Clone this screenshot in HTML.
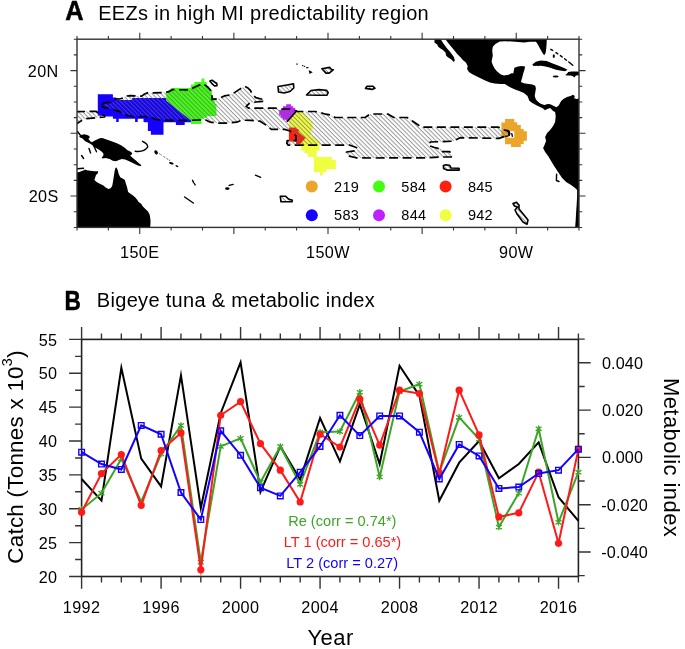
<!DOCTYPE html>
<html><head><meta charset="utf-8"><title>EEZs and bigeye tuna</title>
<style>
html,body{margin:0;padding:0;background:#fff;}
body{width:685px;height:649px;overflow:hidden;}
svg{display:block;font-family:"Liberation Sans", sans-serif;will-change:transform;}
</style></head><body>
<svg width="685" height="649" viewBox="0 0 685 649" fill="#000">
<text transform="translate(65.3,20.4) scale(0.93,1)" font-size="27.3" font-weight="bold" stroke="#000" stroke-width="0.5">A</text>
<text x="98.2" y="19.9" font-size="20" letter-spacing="0.32">EEZs in high MI predictability region</text>
<text transform="translate(64.6,310.4) scale(0.8,1)" font-size="28.3" font-weight="bold" stroke="#000" stroke-width="0.5">B</text>
<text x="96.8" y="306.7" font-size="20" letter-spacing="0.32">Bigeye tuna &amp; metabolic index</text>
<rect x="81.6" y="339.4" width="496.79999999999995" height="237.10000000000002" fill="none" stroke="#222" stroke-width="1.6"/>
<path d="M81.60,576.5v12.3M81.60,339.4v-12.3M101.47,576.5v6M101.47,339.4v-6M121.34,576.5v6M121.34,339.4v-6M141.22,576.5v6M141.22,339.4v-6M161.09,576.5v12.3M161.09,339.4v-12.3M180.96,576.5v6M180.96,339.4v-6M200.83,576.5v6M200.83,339.4v-6M220.70,576.5v6M220.70,339.4v-6M240.58,576.5v12.3M240.58,339.4v-12.3M260.45,576.5v6M260.45,339.4v-6M280.32,576.5v6M280.32,339.4v-6M300.19,576.5v6M300.19,339.4v-6M320.06,576.5v12.3M320.06,339.4v-12.3M339.94,576.5v6M339.94,339.4v-6M359.81,576.5v6M359.81,339.4v-6M379.68,576.5v6M379.68,339.4v-6M399.55,576.5v12.3M399.55,339.4v-12.3M419.42,576.5v6M419.42,339.4v-6M439.30,576.5v6M439.30,339.4v-6M459.17,576.5v6M459.17,339.4v-6M479.04,576.5v12.3M479.04,339.4v-12.3M498.91,576.5v6M498.91,339.4v-6M518.78,576.5v6M518.78,339.4v-6M538.66,576.5v6M538.66,339.4v-6M558.53,576.5v12.3M558.53,339.4v-12.3M578.40,576.5v6M578.40,339.4v-6M81.6,576.50h-12.5M81.6,559.56h-6.5M81.6,542.63h-12.5M81.6,525.69h-6.5M81.6,508.76h-12.5M81.6,491.82h-6.5M81.6,474.89h-12.5M81.6,457.95h-6.5M81.6,441.01h-12.5M81.6,424.08h-6.5M81.6,407.14h-12.5M81.6,390.21h-6.5M81.6,373.27h-12.5M81.6,356.34h-6.5M81.6,339.40h-12.5M578.4,575.65h6.3M578.4,552.00h12.3M578.4,528.35h6.3M578.4,504.70h12.3M578.4,481.05h6.3M578.4,457.40h12.3M578.4,433.75h6.3M578.4,410.10h12.3M578.4,386.45h6.3M578.4,362.80h12.3M578.4,339.15h6.3" stroke="#333" stroke-width="1.4" fill="none"/>
<text x="57.3" y="582.60" font-size="16.2" letter-spacing="0.3" text-anchor="end">20</text>
<text x="57.3" y="548.73" font-size="16.2" letter-spacing="0.3" text-anchor="end">25</text>
<text x="57.3" y="514.86" font-size="16.2" letter-spacing="0.3" text-anchor="end">30</text>
<text x="57.3" y="480.99" font-size="16.2" letter-spacing="0.3" text-anchor="end">35</text>
<text x="57.3" y="447.11" font-size="16.2" letter-spacing="0.3" text-anchor="end">40</text>
<text x="57.3" y="413.24" font-size="16.2" letter-spacing="0.3" text-anchor="end">45</text>
<text x="57.3" y="379.37" font-size="16.2" letter-spacing="0.3" text-anchor="end">50</text>
<text x="57.3" y="345.50" font-size="16.2" letter-spacing="0.3" text-anchor="end">55</text>
<text x="601.9" y="368.60" font-size="16.2" letter-spacing="0.15">0.040</text>
<text x="601.9" y="415.90" font-size="16.2" letter-spacing="0.15">0.020</text>
<text x="601.9" y="463.20" font-size="16.2" letter-spacing="0.15">0.000</text>
<text x="601.2" y="510.50" font-size="16.2" letter-spacing="0.15">-0.020</text>
<text x="601.2" y="557.80" font-size="16.2" letter-spacing="0.15">-0.040</text>
<text x="81.60" y="613.2" font-size="16.2" letter-spacing="0.4" text-anchor="middle">1992</text>
<text x="161.09" y="613.2" font-size="16.2" letter-spacing="0.4" text-anchor="middle">1996</text>
<text x="240.58" y="613.2" font-size="16.2" letter-spacing="0.4" text-anchor="middle">2000</text>
<text x="320.06" y="613.2" font-size="16.2" letter-spacing="0.4" text-anchor="middle">2004</text>
<text x="399.55" y="613.2" font-size="16.2" letter-spacing="0.4" text-anchor="middle">2008</text>
<text x="479.04" y="613.2" font-size="16.2" letter-spacing="0.4" text-anchor="middle">2012</text>
<text x="558.53" y="613.2" font-size="16.2" letter-spacing="0.4" text-anchor="middle">2016</text>
<text x="330.6" y="645" font-size="22" letter-spacing="0.4" text-anchor="middle">Year</text>
<text transform="translate(23.1,456.9) rotate(-90)" font-size="22.3" letter-spacing="0.3" text-anchor="middle">Catch (Tonnes x 10<tspan dy="-11" font-size="14.5">3</tspan><tspan dy="11">)</tspan></text>
<text transform="translate(664.3,457.6) rotate(90)" font-size="22" letter-spacing="0.43" text-anchor="middle">Metabolic index</text>
<polyline points="81.60,478.95 101.47,500.63 121.34,367.85 141.22,458.63 161.09,486.40 180.96,375.30 200.83,508.08 220.70,413.24 240.58,362.43 260.45,491.82 280.32,446.43 300.19,479.63 320.06,417.98 339.94,461.34 359.81,404.43 379.68,464.05 399.55,365.82 419.42,395.63 439.30,500.63 459.17,462.69 479.04,441.01 498.91,478.27 518.78,464.05 538.66,442.37 558.53,497.24 578.40,520.95" fill="none" stroke="#000" stroke-width="2.0" stroke-linejoin="miter" stroke-miterlimit="12"/>
<polyline points="81.60,509.43 101.47,493.18 121.34,458.63 141.22,501.98 161.09,453.89 180.96,425.43 200.83,562.27 220.70,446.43 240.58,438.30 260.45,482.34 280.32,446.43 300.19,484.37 320.06,432.21 339.94,431.53 359.81,392.24 379.68,476.92 399.55,391.56 419.42,384.11 439.30,472.18 459.17,417.30 479.04,438.98 498.91,527.05 518.78,493.18 538.66,428.82 558.53,522.31 578.40,472.18" fill="none" stroke="#3ca526" stroke-width="2.0" stroke-linejoin="miter" stroke-miterlimit="12"/>
<path d="M81.60,506.23v6.40M78.65,507.37l5.90,4.13M78.65,511.50l5.90,-4.13M101.47,489.98v6.40M98.52,491.11l5.90,4.13M98.52,495.24l5.90,-4.13M121.34,455.43v6.40M118.40,456.56l5.90,4.13M118.40,460.69l5.90,-4.13M141.22,498.78v6.40M138.27,499.92l5.90,4.13M138.27,504.05l5.90,-4.13M161.09,450.69v6.40M158.14,451.82l5.90,4.13M158.14,455.95l5.90,-4.13M180.96,422.23v6.40M178.01,423.37l5.90,4.13M178.01,427.50l5.90,-4.13M200.83,559.07v6.40M197.88,560.21l5.90,4.13M197.88,564.34l5.90,-4.13M220.70,443.23v6.40M217.76,444.37l5.90,4.13M217.76,448.50l5.90,-4.13M240.58,435.10v6.40M237.63,436.24l5.90,4.13M237.63,440.37l5.90,-4.13M260.45,479.14v6.40M257.50,480.27l5.90,4.13M257.50,484.40l5.90,-4.13M280.32,443.23v6.40M277.37,444.37l5.90,4.13M277.37,448.50l5.90,-4.13M300.19,481.17v6.40M297.24,482.30l5.90,4.13M297.24,486.43l5.90,-4.13M320.06,429.01v6.40M317.12,430.14l5.90,4.13M317.12,434.27l5.90,-4.13M339.94,428.33v6.40M336.99,429.47l5.90,4.13M336.99,433.60l5.90,-4.13M359.81,389.04v6.40M356.86,390.17l5.90,4.13M356.86,394.30l5.90,-4.13M379.68,473.72v6.40M376.73,474.85l5.90,4.13M376.73,478.98l5.90,-4.13M399.55,388.36v6.40M396.60,389.50l5.90,4.13M396.60,393.63l5.90,-4.13M419.42,380.91v6.40M416.48,382.05l5.90,4.13M416.48,386.18l5.90,-4.13M439.30,468.98v6.40M436.35,470.11l5.90,4.13M436.35,474.24l5.90,-4.13M459.17,414.10v6.40M456.22,415.24l5.90,4.13M456.22,419.37l5.90,-4.13M479.04,435.78v6.40M476.09,436.92l5.90,4.13M476.09,441.05l5.90,-4.13M498.91,523.85v6.40M495.96,524.98l5.90,4.13M495.96,529.11l5.90,-4.13M518.78,489.98v6.40M515.84,491.11l5.90,4.13M515.84,495.24l5.90,-4.13M538.66,425.62v6.40M535.71,426.76l5.90,4.13M535.71,430.89l5.90,-4.13M558.53,519.11v6.40M555.58,520.24l5.90,4.13M555.58,524.37l5.90,-4.13M578.40,468.98v6.40M575.45,470.11l5.90,4.13M575.45,474.24l5.90,-4.13" stroke="#3ca526" stroke-width="1.3" fill="none"/>
<polyline points="81.60,512.14 101.47,473.53 121.34,454.56 141.22,505.37 161.09,450.50 180.96,432.89 200.83,569.73 220.70,415.27 240.58,401.72 260.45,443.72 280.32,470.14 300.19,501.98 320.06,434.24 339.94,447.11 359.81,399.01 379.68,445.08 399.55,390.21 419.42,393.59 439.30,473.53 459.17,390.21 479.04,434.92 498.91,516.89 518.78,512.82 538.66,472.18 558.53,543.31 578.40,449.14" fill="none" stroke="#ff1a1a" stroke-width="2.0" stroke-linejoin="miter" stroke-miterlimit="12"/>
<circle cx="81.60" cy="512.14" r="3.6" fill="#ff1a1a"/>
<circle cx="101.47" cy="473.53" r="3.6" fill="#ff1a1a"/>
<circle cx="121.34" cy="454.56" r="3.6" fill="#ff1a1a"/>
<circle cx="141.22" cy="505.37" r="3.6" fill="#ff1a1a"/>
<circle cx="161.09" cy="450.50" r="3.6" fill="#ff1a1a"/>
<circle cx="180.96" cy="432.89" r="3.6" fill="#ff1a1a"/>
<circle cx="200.83" cy="569.73" r="3.6" fill="#ff1a1a"/>
<circle cx="220.70" cy="415.27" r="3.6" fill="#ff1a1a"/>
<circle cx="240.58" cy="401.72" r="3.6" fill="#ff1a1a"/>
<circle cx="260.45" cy="443.72" r="3.6" fill="#ff1a1a"/>
<circle cx="280.32" cy="470.14" r="3.6" fill="#ff1a1a"/>
<circle cx="300.19" cy="501.98" r="3.6" fill="#ff1a1a"/>
<circle cx="320.06" cy="434.24" r="3.6" fill="#ff1a1a"/>
<circle cx="339.94" cy="447.11" r="3.6" fill="#ff1a1a"/>
<circle cx="359.81" cy="399.01" r="3.6" fill="#ff1a1a"/>
<circle cx="379.68" cy="445.08" r="3.6" fill="#ff1a1a"/>
<circle cx="399.55" cy="390.21" r="3.6" fill="#ff1a1a"/>
<circle cx="419.42" cy="393.59" r="3.6" fill="#ff1a1a"/>
<circle cx="439.30" cy="473.53" r="3.6" fill="#ff1a1a"/>
<circle cx="459.17" cy="390.21" r="3.6" fill="#ff1a1a"/>
<circle cx="479.04" cy="434.92" r="3.6" fill="#ff1a1a"/>
<circle cx="498.91" cy="516.89" r="3.6" fill="#ff1a1a"/>
<circle cx="518.78" cy="512.82" r="3.6" fill="#ff1a1a"/>
<circle cx="538.66" cy="472.18" r="3.6" fill="#ff1a1a"/>
<circle cx="558.53" cy="543.31" r="3.6" fill="#ff1a1a"/>
<circle cx="578.40" cy="449.14" r="3.6" fill="#ff1a1a"/>
<polyline points="81.60,452.19 101.47,464.05 121.34,469.47 141.22,425.43 161.09,434.24 180.96,492.50 200.83,519.60 220.70,430.85 240.58,455.24 260.45,487.76 280.32,495.89 300.19,472.18 320.06,446.43 339.94,415.27 359.81,435.59 379.68,415.95 399.55,415.95 419.42,432.21 439.30,478.95 459.17,444.40 479.04,455.92 498.91,488.43 518.78,487.08 538.66,473.53 558.53,470.14 578.40,449.14" fill="none" stroke="#1400ff" stroke-width="2.0" stroke-linejoin="miter" stroke-miterlimit="12"/>
<path d="M78.80,449.39h5.6v5.6h-5.6zM98.67,461.25h5.6v5.6h-5.6zM118.54,466.67h5.6v5.6h-5.6zM138.42,422.63h5.6v5.6h-5.6zM158.29,431.44h5.6v5.6h-5.6zM178.16,489.70h5.6v5.6h-5.6zM198.03,516.80h5.6v5.6h-5.6zM217.90,428.05h5.6v5.6h-5.6zM237.78,452.44h5.6v5.6h-5.6zM257.65,484.96h5.6v5.6h-5.6zM277.52,493.09h5.6v5.6h-5.6zM297.39,469.38h5.6v5.6h-5.6zM317.26,443.63h5.6v5.6h-5.6zM337.14,412.47h5.6v5.6h-5.6zM357.01,432.79h5.6v5.6h-5.6zM376.88,413.15h5.6v5.6h-5.6zM396.75,413.15h5.6v5.6h-5.6zM416.62,429.41h5.6v5.6h-5.6zM436.50,476.15h5.6v5.6h-5.6zM456.37,441.60h5.6v5.6h-5.6zM476.24,453.12h5.6v5.6h-5.6zM496.11,485.63h5.6v5.6h-5.6zM515.98,484.28h5.6v5.6h-5.6zM535.86,470.73h5.6v5.6h-5.6zM555.73,467.34h5.6v5.6h-5.6zM575.60,446.34h5.6v5.6h-5.6z" stroke="#1400ff" stroke-width="1.4" fill="none"/>
<text x="342.3" y="526.3" font-size="14.6" fill="#3ca526" text-anchor="middle">Re (corr = 0.74*)</text>
<text x="342.5" y="547.2" font-size="14.6" fill="#ff1a1a" text-anchor="middle">LT 1 (corr = 0.65*)</text>
<text x="342.2" y="568.2" font-size="14.6" fill="#1400ff" text-anchor="middle">LT 2 (corr = 0.27)</text>
<defs><clipPath id="mc"><rect x="77" y="39.2" width="502" height="188.2"/></clipPath><pattern id="hp" width="3.1" height="20" patternUnits="userSpaceOnUse" patternTransform="rotate(-45)"><line x1="1" y1="0" x2="1" y2="20" stroke="#646464" stroke-width="0.75"/></pattern></defs>
<g clip-path="url(#mc)">
<polygon points="97.8,94.2 112.9,94.2 112.9,97.5 116.2,97.5 116.2,100.0 132.2,100.0 132.2,97.9 166.2,97.9 166.2,100.4 191.2,120.5 191.2,122.3 184.7,122.3 184.7,124.9 175.9,124.9 175.9,122.3 163.5,122.3 163.5,134.7 150.9,134.7 150.9,131.0 147.9,131.0 147.9,122.3 144.4,122.3 144.4,121.9 143.5,121.9 143.5,118.7 137.7,118.7 137.7,121.9 135.1,121.9 135.1,118.7 118.7,118.7 118.7,121.9 116.2,121.9 116.2,118.7 112.9,118.7 112.9,116.5 104.5,116.5 104.5,115.7 97.8,115.7" fill="#1500ff"/>
<polygon points="171.9,88.0 191.0,88.0 191.0,84.5 194.5,84.5 194.5,81.9 201.5,81.9 201.5,78.4 204.2,78.4 204.2,81.9 206.8,81.9 206.8,86.3 209.4,86.3 209.4,89.8 212.0,89.8 212.0,97.7 214.7,97.7 214.7,103.8 216.4,103.8 216.4,116.1 206.8,116.1 206.8,118.0 202.4,118.0 202.4,119.6 201.5,119.6 201.5,123.9 191.0,123.9 191.0,120.3 166.2,100.4 166.2,92.0" fill="#40ff10"/>
<polygon points="287.3,121.4 296.4,111.2 301.3,111.2 301.3,112.8 304.5,112.8 304.5,115.5 307.2,115.5 307.2,118.2 309.9,118.2 309.9,121.4 312.6,121.4 312.6,130.6 311.0,130.6 311.0,136.5 314.2,136.5 314.2,138.7 317.5,138.7 317.5,141.4 319.6,141.4 319.7,150.4 316.6,150.4 316.6,157.0 332.0,157.0 332.0,160.0 335.8,160.0 335.8,169.3 326.2,169.3 326.2,172.0 322.7,172.0 322.7,175.5 320.0,175.5 320.0,172.0 313.9,172.0 313.9,157.0 307.7,157.0 307.7,153.1 304.3,153.1 304.3,150.8 301.2,150.8 301.2,144.1 296.0,144.1 296.0,127.4 288.9,127.4 288.9,121.4" fill="#f0fe40"/>
<polygon points="286.2,104.2 291.0,104.2 291.0,106.3 293.2,106.3 293.2,107.9 295.3,107.9 295.3,110.1 296.4,111.2 287.3,121.4 286.2,121.4 286.2,119.8 282.9,119.8 282.9,117.7 280.8,117.7 280.8,115.5 279.2,115.5 279.2,110.1 282.9,110.1 282.9,106.3 286.2,106.3" fill="#be20ff"/>
<polygon points="288.9,127.4 296.4,127.4 296.4,129.0 298.6,129.0 298.6,132.2 305.6,138.1 300.2,144.1 295.9,144.1 295.9,141.4 288.9,141.4" fill="#ff2010"/>
<path d="M505.0,119.0 L514.3,119.0 L514.3,122.2 L517.2,122.2 L517.2,124.9 L520.8,124.9 L520.8,129.0 L523.7,129.0 L523.7,131.3 L526.9,131.3 L526.9,140.7 L523.7,140.7 L523.7,143.9 L520.8,143.9 L520.8,147.1 L511.1,147.1 L511.1,144.2 L505.0,144.2 L505.0,137.8 L501.4,137.8 L501.4,122.5 L505.0,122.5Z M507.6,131.3 L514.3,131.3 L514.3,137.8 L507.6,137.8Z" fill="#eba52a" fill-rule="evenodd"/>
<polygon points="76.0,111.7 96.0,111.3 100.3,114.3 104.3,115.4 104.6,117.0 98.5,117.5 86.4,118.7 81.1,120.9 77.2,123.5 76.0,124.0" fill="url(#hp)"/>
<polygon points="102.3,104.0 104.0,102.8 107.3,102.6 112.5,102.3 116.0,98.8 119.5,99.0 123.6,97.8 125.4,96.1 130.0,95.7 141.7,96.1 144.0,94.3 147.6,92.9 165.1,92.6 169.7,91.4 172.1,89.7 189.3,89.8 194.5,87.2 202.4,83.7 206.8,86.3 210.3,89.8 212.0,95.0 212.0,99.4 219.1,98.5 224.3,95.9 229.6,95.0 234.8,92.4 240.1,88.9 244.5,86.3 248.0,88.0 250.6,90.7 252.3,94.2 255.8,97.7 262.9,99.4 264.6,101.2 255.8,102.0 248.8,103.8 246.2,106.4 248.8,108.2 275.1,108.2 282.1,109.1 290.0,109.1 297.5,111.5 315.0,111.5 320.3,112.4 325.5,114.2 330.0,114.9 335.3,117.5 365.0,117.5 370.3,114.0 387.8,114.0 393.9,117.5 407.1,117.5 412.0,120.8 417.6,124.5 421.1,127.2 498.5,127.2 501.5,128.5 504.5,130.0 507.0,130.5 508.8,132.0 509.0,134.5 507.5,136.2 504.0,136.6 499.0,138.4 460.1,137.7 456.6,139.4 453.1,141.2 430.3,142.0 428.5,145.5 433.8,147.3 440.8,149.1 442.6,151.7 449.6,151.7 452.2,154.3 451.3,157.0 442.6,157.0 425.0,157.8 372.9,158.0 356.0,157.8 349.3,156.1 346.0,153.5 346.5,152.0 354.5,150.8 357.5,149.5 356.3,147.5 350.0,145.2 296.0,145.2 288.0,145.2 286.8,143.0 287.2,140.6 296.0,140.6 296.0,136.0 290.0,131.0 284.7,129.4 271.4,129.4 266.3,125.3 260.1,121.2 250.6,120.4 241.7,120.2 236.6,122.2 226.1,123.1 217.3,123.1 210.3,122.2 205.0,119.6 189.3,120.4 170.0,120.4 160.4,120.0 155.7,119.5 151.1,117.1 145.2,116.5 132.4,116.5 127.1,115.4 122.4,113.7 119.5,111.4 116.6,110.8 110.8,109.0 104.9,107.6 102.6,106.7" fill="url(#hp)"/>
<polygon points="209.8,81.0 212.0,80.2 214.5,82.0 216.8,83.5 217.0,85.6 214.5,86.0 212.5,84.2" fill="url(#hp)"/>
<polygon points="278.0,86.5 287.0,85.0 293.5,83.8 293.8,88.0 290.0,91.5 284.0,93.0 278.5,92.0" fill="url(#hp)"/>
<polygon points="306.5,95.0 311.0,90.5 319.0,89.6 326.5,90.2 328.2,92.5 327.0,95.2 318.0,95.3" fill="url(#hp)"/>
<polygon points="321.9,68.7 329.6,67.4 331.6,69.5 333.2,69.9 329.2,73.1 326.0,73.1" fill="url(#hp)"/>
<polygon points="365.4,88.4 367.0,86.3 373.0,86.2 375.0,88.2 372.0,89.4" fill="url(#hp)"/>
<polygon points="443.4,165.5 446.0,164.8 449.5,165.2 451.0,168.0 459.0,168.2 459.2,170.1 447.0,170.1 443.6,168.5" fill="url(#hp)"/>
<polygon points="280.3,196.3 285.5,196.2 288.5,199.0 292.3,200.2 292.0,201.8 281.0,201.8" fill="url(#hp)"/>
<polygon points="513.0,203.5 516.5,202.2 519.0,205.0 519.0,209.0 524.0,215.0 528.0,220.0 527.0,224.2 523.0,222.0 517.0,214.0 515.0,210.0 517.5,207.0 514.5,206.0" fill="url(#hp)"/>
<polygon points="76.0,111.7 96.0,111.3 100.3,114.3 104.3,115.4 104.6,117.0 98.5,117.5 86.4,118.7 81.1,120.9 77.2,123.5 76.0,124.0" fill="none" stroke="#000" stroke-width="1.7" stroke-dasharray="9 4.5" stroke-linejoin="round"/>
<polygon points="102.3,104.0 104.0,102.8 107.3,102.6 112.5,102.3 116.0,98.8 119.5,99.0 123.6,97.8 125.4,96.1 130.0,95.7 141.7,96.1 144.0,94.3 147.6,92.9 165.1,92.6 169.7,91.4 172.1,89.7 189.3,89.8 194.5,87.2 202.4,83.7 206.8,86.3 210.3,89.8 212.0,95.0 212.0,99.4 219.1,98.5 224.3,95.9 229.6,95.0 234.8,92.4 240.1,88.9 244.5,86.3 248.0,88.0 250.6,90.7 252.3,94.2 255.8,97.7 262.9,99.4 264.6,101.2 255.8,102.0 248.8,103.8 246.2,106.4 248.8,108.2 275.1,108.2 282.1,109.1 290.0,109.1 297.5,111.5 315.0,111.5 320.3,112.4 325.5,114.2 330.0,114.9 335.3,117.5 365.0,117.5 370.3,114.0 387.8,114.0 393.9,117.5 407.1,117.5 412.0,120.8 417.6,124.5 421.1,127.2 498.5,127.2 501.5,128.5 504.5,130.0 507.0,130.5 508.8,132.0 509.0,134.5 507.5,136.2 504.0,136.6 499.0,138.4 460.1,137.7 456.6,139.4 453.1,141.2 430.3,142.0 428.5,145.5 433.8,147.3 440.8,149.1 442.6,151.7 449.6,151.7 452.2,154.3 451.3,157.0 442.6,157.0 425.0,157.8 372.9,158.0 356.0,157.8 349.3,156.1 346.0,153.5 346.5,152.0 354.5,150.8 357.5,149.5 356.3,147.5 350.0,145.2 296.0,145.2 288.0,145.2 286.8,143.0 287.2,140.6 296.0,140.6 296.0,136.0 290.0,131.0 284.7,129.4 271.4,129.4 266.3,125.3 260.1,121.2 250.6,120.4 241.7,120.2 236.6,122.2 226.1,123.1 217.3,123.1 210.3,122.2 205.0,119.6 189.3,120.4 170.0,120.4 160.4,120.0 155.7,119.5 151.1,117.1 145.2,116.5 132.4,116.5 127.1,115.4 122.4,113.7 119.5,111.4 116.6,110.8 110.8,109.0 104.9,107.6 102.6,106.7" fill="none" stroke="#000" stroke-width="1.7" stroke-dasharray="9 4.5" stroke-linejoin="round"/>
<polygon points="209.8,81.0 212.0,80.2 214.5,82.0 216.8,83.5 217.0,85.6 214.5,86.0 212.5,84.2" fill="none" stroke="#000" stroke-width="1.6" stroke-linejoin="round"/>
<polygon points="278.0,86.5 287.0,85.0 293.5,83.8 293.8,88.0 290.0,91.5 284.0,93.0 278.5,92.0" fill="none" stroke="#000" stroke-width="1.6" stroke-linejoin="round"/>
<polygon points="306.5,95.0 311.0,90.5 319.0,89.6 326.5,90.2 328.2,92.5 327.0,95.2 318.0,95.3" fill="none" stroke="#000" stroke-width="1.6" stroke-linejoin="round"/>
<polygon points="321.9,68.7 329.6,67.4 331.6,69.5 333.2,69.9 329.2,73.1 326.0,73.1" fill="none" stroke="#000" stroke-width="1.6" stroke-linejoin="round"/>
<polygon points="365.4,88.4 367.0,86.3 373.0,86.2 375.0,88.2 372.0,89.4" fill="none" stroke="#000" stroke-width="1.6" stroke-linejoin="round"/>
<polygon points="443.4,165.5 446.0,164.8 449.5,165.2 451.0,168.0 459.0,168.2 459.2,170.1 447.0,170.1 443.6,168.5" fill="none" stroke="#000" stroke-width="1.6" stroke-linejoin="round"/>
<polygon points="280.3,196.3 285.5,196.2 288.5,199.0 292.3,200.2 292.0,201.8 281.0,201.8" fill="none" stroke="#000" stroke-width="1.6" stroke-linejoin="round"/>
<polygon points="513.0,203.5 516.5,202.2 519.0,205.0 519.0,209.0 524.0,215.0 528.0,220.0 527.0,224.2 523.0,222.0 517.0,214.0 515.0,210.0 517.5,207.0 514.5,206.0" fill="none" stroke="#000" stroke-width="1.6" stroke-linejoin="round"/>
<path d="M297,110.6 L287,121.8" stroke="#000" stroke-width="1.5" fill="none"/>
<polygon points="76.0,172.9 79.3,171.9 82.6,170.8 85.2,169.5 86.9,170.2 90.1,170.8 94.4,171.3 98.2,171.3 97.7,173.5 96.0,175.1 94.4,180.0 96.6,182.1 99.8,183.7 103.0,185.3 105.7,187.5 108.4,188.9 110.6,188.3 112.2,185.9 113.0,181.6 113.8,176.2 114.7,170.8 115.4,168.1 116.5,167.6 117.6,169.7 118.7,174.0 120.3,177.3 122.5,178.6 124.7,179.7 125.9,183.5 127.2,187.7 128.1,192.0 130.2,193.6 132.7,195.3 135.3,197.5 137.4,200.0 138.6,202.1 141.2,203.8 142.9,206.4 145.4,208.9 148.0,211.4 149.7,214.8 150.5,219.9 150.5,223.3 150.1,228.0 76.0,228.0" fill="#000"/>
<polygon points="79.1,136.6 81.1,135.1 84.2,134.3 87.3,134.9 89.3,136.1 89.8,137.7 88.3,138.7 90.3,141.2 91.9,142.3 94.4,140.7 97.5,139.2 100.5,138.0 103.1,138.2 105.7,139.2 108.7,140.2 112.8,141.8 116.9,143.3 121.0,145.3 125.1,147.9 127.1,149.9 130.2,151.5 132.2,153.0 131.7,154.5 130.2,155.5 132.2,157.6 135.3,160.1 138.4,162.7 141.4,165.3 140.4,166.3 137.3,165.3 134.3,163.7 131.2,162.2 128.1,160.7 125.1,159.6 122.0,159.1 118.9,160.1 115.9,161.2 112.8,160.7 109.7,159.1 105.7,158.1 102.6,158.6 101.6,157.6 103.1,156.1 103.6,154.0 102.1,152.0 99.5,149.9 97.0,148.4 94.9,147.4 93.4,146.3 92.4,145.3 90.3,143.8 87.3,142.3 85.2,141.2 82.2,138.2 80.1,137.4" fill="#000"/>
<polygon points="434.5,38.5 440.3,38.5 443.2,43.3 446.7,47.9 450.2,52.0 453.7,56.7 454.9,60.2 453.7,62.0 451.4,59.6 447.8,57.3 446.1,55.5 445.5,52.6 442.6,49.7 439.7,47.9 437.9,46.2 437.3,44.4 434.5,42.7" fill="#000"/>
<polygon points="444.8,38.5 546.8,38.5 546.6,44.0 546.2,49.0 545.6,53.0 544.2,55.3 542.5,53.0 540.0,48.5 537.8,44.5 536.0,41.8 530.0,41.8 524.0,42.5 518.0,42.0 512.0,41.5 505.0,41.2 499.8,41.5 495.7,43.8 492.8,46.8 492.2,50.8 492.8,55.5 491.6,61.4 492.8,64.9 494.6,68.4 496.9,71.3 500.4,74.2 503.9,75.4 508.6,74.8 512.1,73.0 513.2,73.8 514.4,67.8 518.0,66.6 521.5,66.0 525.1,66.6 524.5,69.6 523.3,73.2 522.1,78.0 520.9,82.1 523.9,83.3 528.7,83.9 532.3,84.5 535.3,85.7 535.9,88.7 535.3,92.3 534.7,95.9 535.9,99.5 538.3,101.9 540.7,103.7 544.3,104.9 547.9,104.1 550.3,104.3 553.9,106.1 556.3,107.3 558.7,105.5 561.0,101.3 563.4,98.9 567.0,97.1 570.6,95.9 573.0,94.7 574.8,95.9 574.2,98.3 576.6,98.9 580.0,98.3 580.0,228.0 575.1,228.0 575.7,220.2 576.1,212.2 576.7,204.2 577.1,196.2 577.1,190.1 575.1,188.1 571.1,185.1 566.1,182.1 562.1,178.1 558.1,172.1 554.1,166.1 551.1,161.1 548.1,156.1 545.1,152.1 543.1,148.1 544.1,146.1 546.1,141.1 545.1,137.1 547.1,133.1 550.1,130.0 553.1,126.0 555.1,122.0 555.7,116.0 555.1,112.0 553.1,111.0 550.1,108.0 547.3,109.1 544.9,110.3 543.1,108.5 539.5,106.7 535.9,104.9 532.3,103.1 529.3,100.7 527.5,95.9 523.9,92.9 519.2,91.1 514.4,89.3 509.6,86.9 504.8,83.9 500.4,84.1 494.6,83.5 489.9,82.4 485.2,80.6 480.5,78.3 475.9,76.0 472.4,74.2 468.9,71.9 467.1,68.9 467.7,66.0 465.9,62.5 463.0,60.2 460.5,57.3 457.0,53.8 453.2,49.1 448.8,43.8" fill="#000"/>
<polygon points="532.3,64.6 535.9,61.8 540.7,60.6 546.7,61.0 552.7,63.4 558.7,65.8 564.6,68.2 567.5,69.8 565.0,71.3 559.9,70.6 555.1,69.4 550.3,67.8 545.5,66.6 540.7,65.8 537.1,65.8 533.5,66.0" fill="#000"/>
<polygon points="568.2,72.0 571.8,71.4 576.6,71.4 580.0,72.0 580.0,75.0 576.0,75.6 574.2,77.4 573.0,76.2 570.6,75.6 567.0,75.6 565.2,75.0 567.0,73.8" fill="#000"/>
<g fill="#000"><ellipse cx="555.7" cy="76.5" rx="3" ry="1" /><ellipse cx="538.3" cy="65.6" rx="0.9" ry="0.7" /><ellipse cx="553.8" cy="56.1" rx="1.1" ry="1.9" /><ellipse cx="227.3" cy="188.6" rx="2.3" ry="1.3" /><ellipse cx="156.1" cy="152.4" rx="1.6" ry="2.2" transform="rotate(-35 156.1 152.4)"/><ellipse cx="171.3" cy="163.3" rx="2.4" ry="1" transform="rotate(20 171.3 163.3)"/><ellipse cx="176.9" cy="166.1" rx="1.6" ry="0.8" transform="rotate(30 176.9 166.1)"/><polygon points="308.7,69.9 312.7,72.3 309.5,73.9"/><ellipse cx="304.5" cy="66.3" rx="0.8" ry="0.6"/><ellipse cx="307.3" cy="67.7" rx="1.4" ry="0.6"/><ellipse cx="302.7" cy="65.6" rx="0.8" ry="0.6"/><ellipse cx="297" cy="64" rx="1.2" ry="0.5"/></g>
<path d="M135.2,151.3 Q144,152.4 147.6,147.2 Q148.2,144 142.5,141.3 M184.6,197 L193.3,203 M192.5,180.3 L193.5,182.5 M194.3,183.5 L195.2,185 M229.1,185.4 L233.1,184.4 M255.4,175.2 L260.7,177.3 M92.8,143.5 L94.5,147.5 L96.5,151.8 M89,148.5 L90.6,153 M81.6,155.5 L83.6,158.5 M77.5,131.5 L80.5,135.5 M77.5,168.8 L83.5,168.2 M550.8,49.3 L552.6,50.4 M556,52.6 L557.8,53.8 M560.4,55.6 L562.2,57 M564.6,58.8 L566.4,60.2 M568.8,62 L572.8,65.2 M556.6,174.3 L556.4,180.5 L559,181.5 M506.5,130.6 C509.5,130 510.5,134 509,135.6 L505.8,136.4 M511.8,133.6 L512.3,136.2" fill="none" stroke="#000" stroke-width="1.4" stroke-linecap="round" stroke-linejoin="round"/>
<path d="M159.3,153.6 L162,155.5 M163.5,156.5 L166,158 M166.5,158.5 L170,160.5" stroke="#333" stroke-width="0.9" stroke-dasharray="1.5 1.2" fill="none"/>
</g>
<rect x="77.0" y="39.2" width="502.0" height="188.2" fill="none" stroke="#333" stroke-width="1.4"/>
<path d="M77.00,39.2v-3.2M77.00,227.4v3.2M108.38,39.2v-3.2M108.38,227.4v3.2M139.75,39.2v-6.5M139.75,227.4v6.5M171.12,39.2v-3.2M171.12,227.4v3.2M202.50,39.2v-3.2M202.50,227.4v3.2M233.88,39.2v-6.5M233.88,227.4v6.5M265.25,39.2v-3.2M265.25,227.4v3.2M296.62,39.2v-3.2M296.62,227.4v3.2M328.00,39.2v-6.5M328.00,227.4v6.5M359.38,39.2v-3.2M359.38,227.4v3.2M390.75,39.2v-3.2M390.75,227.4v3.2M422.12,39.2v-6.5M422.12,227.4v6.5M453.50,39.2v-3.2M453.50,227.4v3.2M484.88,39.2v-3.2M484.88,227.4v3.2M516.25,39.2v-6.5M516.25,227.4v6.5M547.62,39.2v-3.2M547.62,227.4v3.2M579.00,39.2v-3.2M579.00,227.4v3.2M77.0,227.45h-3.2M579.0,227.45h3.2M77.0,211.76h-3.2M579.0,211.76h3.2M77.0,196.07h-6.5M579.0,196.07h6.5M77.0,180.39h-3.2M579.0,180.39h3.2M77.0,164.70h-3.2M579.0,164.70h3.2M77.0,149.01h-3.2M579.0,149.01h3.2M77.0,133.32h-6.5M579.0,133.32h6.5M77.0,117.64h-3.2M579.0,117.64h3.2M77.0,101.95h-3.2M579.0,101.95h3.2M77.0,86.26h-3.2M579.0,86.26h3.2M77.0,70.58h-6.5M579.0,70.58h6.5M77.0,54.89h-3.2M579.0,54.89h3.2M77.0,39.20h-3.2M579.0,39.20h3.2" stroke="#333" stroke-width="1.1" fill="none"/>
<text x="58.6" y="76.8" font-size="16.2" letter-spacing="0.35" text-anchor="end">20N</text>
<text x="58.6" y="201.6" font-size="16.2" letter-spacing="0.35" text-anchor="end">20S</text>
<text x="139.75" y="258.3" font-size="16.2" letter-spacing="0.4" text-anchor="middle">150E</text>
<text x="328.00" y="258.3" font-size="16.2" letter-spacing="0.4" text-anchor="middle">150W</text>
<text x="516.25" y="258.3" font-size="16.2" letter-spacing="0.4" text-anchor="middle">90W</text>
<circle cx="311.8" cy="186.4" r="6" fill="#eba52a"/>
<text x="334.1" y="191.6" font-size="14.5" letter-spacing="0.3">219</text>
<circle cx="379" cy="186.4" r="6" fill="#40ff10"/>
<text x="401.3" y="191.6" font-size="14.5" letter-spacing="0.3">584</text>
<circle cx="445.6" cy="186.4" r="6" fill="#ff2010"/>
<text x="467.90000000000003" y="191.6" font-size="14.5" letter-spacing="0.3">845</text>
<circle cx="311.8" cy="215.2" r="6" fill="#1500ff"/>
<text x="334.1" y="220.4" font-size="14.5" letter-spacing="0.3">583</text>
<circle cx="379" cy="215.2" r="6" fill="#be20ff"/>
<text x="401.3" y="220.4" font-size="14.5" letter-spacing="0.3">844</text>
<circle cx="445.6" cy="215.2" r="6" fill="#f0fe40"/>
<text x="467.90000000000003" y="220.4" font-size="14.5" letter-spacing="0.3">942</text>
</svg>
</body></html>
